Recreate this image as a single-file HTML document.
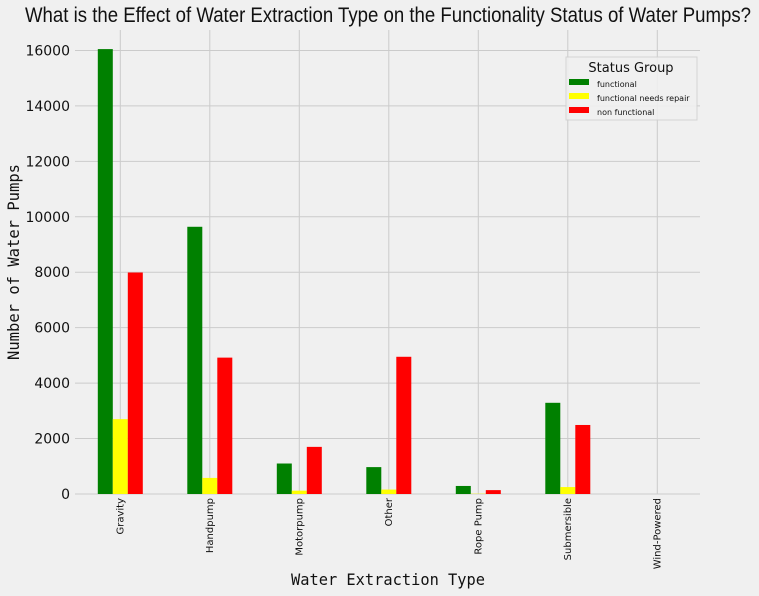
<!DOCTYPE html>
<html><head><meta charset="utf-8">
<style>
body{margin:0;background:#f0f0f0;}
svg{display:block;font-family:"DejaVu Sans","Liberation Sans",sans-serif;}
</style></head>
<body>
<svg id="chart" width="759" height="596" viewBox="0 0 759 596" xmlns="http://www.w3.org/2000/svg">
<rect width="759" height="596" fill="#f0f0f0"/>
<text x="388" y="22" text-anchor="middle" font-size="21" fill="#111" font-family="'Liberation Sans',sans-serif" textLength="726" lengthAdjust="spacingAndGlyphs">What is the Effect of Water Extraction Type on the Functionality Status of Water Pumps?</text>
<g id="grid"></g>
<g id="bars"></g>
<g id="labels"></g>
<text x="388" y="585" text-anchor="middle" font-size="16" font-family="'DejaVu Sans Mono',monospace" fill="#111" textLength="194" lengthAdjust="spacingAndGlyphs">Water Extraction Type</text>
<text transform="translate(19,262) rotate(-90)" text-anchor="middle" font-size="16" font-family="'DejaVu Sans Mono',monospace" fill="#111" textLength="196" lengthAdjust="spacingAndGlyphs">Number of Water Pumps</text>
<g>
<rect x="566" y="57" width="131" height="63" fill="#f0f0f0" stroke="#d0d0d0" opacity="0.9"/>
<text x="631" y="72" text-anchor="middle" font-size="13" fill="#111">Status Group</text>
<rect x="569" y="79" width="20" height="6" fill="#008000"/>
<text x="597" y="87" font-size="8" fill="#111">functional</text>
<rect x="569" y="93" width="20" height="6" fill="#ffff00"/>
<text x="597" y="101" font-size="8" fill="#111">functional needs repair</text>
<rect x="569" y="107" width="20" height="6" fill="#ff0000"/>
<text x="597" y="115" font-size="8" fill="#111">non functional</text>
</g>
</svg>
<script>
const categories=["Gravity","Handpump","Motorpump","Other","Rope Pump","Submersible","Wind-Powered"];
const functional=[16050,9640,1100,970,290,3290,0];
const needsRepair=[2700,580,120,160,10,250,0];
const nonFunctional=[7990,4920,1700,4950,140,2490,0];
const yTicks=[0,2000,4000,6000,8000,10000,12000,14000,16000];
const NS="http://www.w3.org/2000/svg";
const plotL=75,plotR=700,plotT=30,plotB=494;
function y(v){return plotB-v*0.02772;}
function x(i){return 120.3+i*89.5;}
const grid=document.getElementById('grid'),bars=document.getElementById('bars'),labels=document.getElementById('labels');
function mk(tag,attrs,parent){const e=document.createElementNS(NS,tag);for(const k in attrs)e.setAttribute(k,attrs[k]);parent.appendChild(e);return e;}
yTicks.forEach(t=>{
  const l=mk('line',{x1:plotL,x2:plotR,y1:y(t),y2:y(t),stroke:'#cbcbcb','stroke-width':1},grid);
  
  
  const tx=mk('text',{x:70,y:y(t)+5,'text-anchor':'end','font-size':14,fill:'#111'},labels);
  tx.textContent=t;
  
  
});
categories.forEach((c,i)=>{
  const l=mk('line',{x1:x(i),x2:x(i),y1:plotT,y2:plotB,stroke:'#cbcbcb','stroke-width':1},grid);
  
  
  const tx=mk('text',{transform:`translate(${x(i)+3},${498}) rotate(-90)`,'text-anchor':'end','font-size':10,fill:'#111'},labels);
  tx.textContent=c;
  
  
});
const series=[[functional,'#008000',-1,'functional'],[needsRepair,'#ffff00',0,'needs-repair'],[nonFunctional,'#ff0000',1,'non-functional']];
const w=15;
series.forEach(([vals,col,off,nm])=>{
  vals.forEach((v,i)=>{
    if(v<=0)return;
    const r=mk('rect',{x:x(i)+off*w-w/2,y:y(v),width:w,height:plotB-y(v),fill:col},bars);
    
    
  });
});
</script>
</body></html>
